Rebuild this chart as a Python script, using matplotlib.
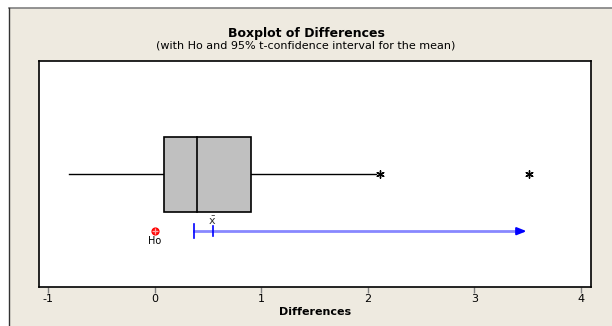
import matplotlib.pyplot as plt
from matplotlib.patches import Rectangle

# boxplot summary
whisker_low = -0.80
q1 = 0.09
median = 0.40
q3 = 0.90
whisker_high = 2.08
outliers = [2.11, 3.51]

# Ho and one-sided 95% t-interval for the mean
ho = 0.0
mean = 0.55
ci_low = 0.37
ci_arrow_end = 3.49

xticks = [-1, 0, 1, 2, 3, 4]

bg = '#EEEAE0'
fig = plt.figure(figsize=(6.12, 3.26), dpi=100)
fig.patch.set_facecolor('white')
# beige panel with a thin border on top / left
fig.patches.append(Rectangle((9 / 612, -0.1), 1.2, (326 - 8) / 326 + 0.1,
                             transform=fig.transFigure, facecolor=bg,
                             edgecolor='none', zorder=-10))
fig.add_artist(plt.Line2D([9 / 612, 1], [1 - 8 / 326] * 2, color='#808080', lw=1.2,
                          transform=fig.transFigure, zorder=-5))
fig.add_artist(plt.Line2D([9 / 612] * 2, [0, 1 - 8 / 326], color='#333333', lw=1.0,
                          transform=fig.transFigure, zorder=-5))

ax = fig.add_axes([38.5 / 612, 1 - 287 / 326, (591 - 38.5) / 612, (287 - 61) / 326])
ax.set_facecolor('white')
ax.set_xlim(-1.089, 4.094)
ax.set_ylim(0, 1)

yc = 0.498
bh = 0.335
# whiskers
ax.plot([whisker_low, q1], [yc, yc], color='black', lw=1.0)
ax.plot([q3, whisker_high], [yc, yc], color='black', lw=1.0)
# box
ax.add_patch(Rectangle((q1, yc - bh / 2), q3 - q1, bh, facecolor='#C0C0C0',
                       edgecolor='black', lw=1.2, zorder=3))
ax.plot([median, median], [yc - bh / 2, yc + bh / 2], color='black', lw=1.2, zorder=4)
# outliers
ax.scatter(outliers, [yc] * len(outliers), marker=(6, 2, 0), s=28, color='black',
           lw=1.0, zorder=5)

# confidence interval
yci = 0.247
ax.plot([ci_low, ci_arrow_end - 0.06], [yci, yci], color='#8888FF', lw=2.0, zorder=3)
ax.annotate('', xy=(ci_arrow_end, yci), xytext=(ci_arrow_end - 0.08, yci),
            arrowprops=dict(arrowstyle='-|>,head_length=0.55,head_width=0.22',
                            color='#0000FF', lw=1.5, shrinkA=0, shrinkB=0), zorder=4)
ax.plot([ci_low, ci_low], [yci - 0.03, yci + 0.03], color='#0000FF', lw=1.2, zorder=4)
ax.plot([mean, mean], [yci - 0.022, yci + 0.022], color='#0000FF', lw=1.2, zorder=4)
ax.text(mean - 0.01, 0.292, r'$\bar{\mathsf{x}}$', ha='center', va='center',
        fontsize=8, color='#333333')

# Ho
ax.scatter([ho], [yci], marker='o', s=24, facecolor='#FF2020', edgecolor='#FF0000', zorder=5)
ax.scatter([ho], [yci], marker='+', s=24, color='#FFAAAA', lw=0.8, zorder=6)
ax.text(ho, 0.203, 'Ho', ha='center', va='center', fontsize=7, color='black')

ax.set_xticks(xticks)
ax.set_xticklabels([str(t) for t in xticks])
ax.set_yticks([])
ax.tick_params(axis='x', direction='out', length=4, width=1, color='#808080',
               labelsize=8, pad=1)
for s in ax.spines.values():
    s.set_color('black')
    s.set_linewidth(1.2)

ax.set_xlabel('Differences', fontsize=8, fontweight='bold', labelpad=2)
fig.text(0.5, 1 - 33 / 326, 'Boxplot of Differences', ha='center', va='center',
         fontsize=9, fontweight='bold')
fig.text(0.5, 1 - 46 / 326, '(with Ho and 95% t-confidence interval for the mean)',
         ha='center', va='center', fontsize=8)

fig.savefig('out.png', dpi=100, facecolor=fig.get_facecolor())
